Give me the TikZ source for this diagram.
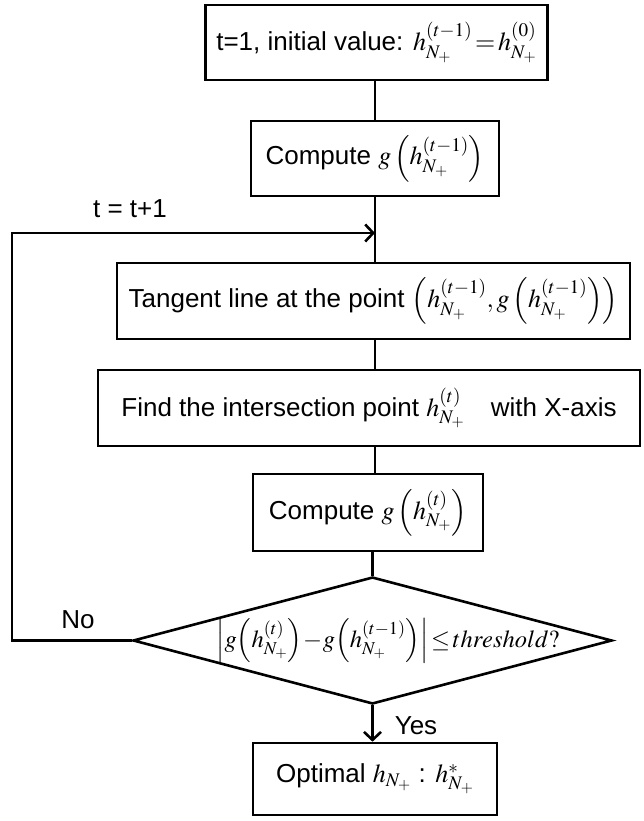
\documentclass[tikz,border=0pt]{standalone}
\usepackage{mathptmx}
\usepackage[no-math]{fontspec}
\setmainfont{Liberation Sans}
\usetikzlibrary{arrows.meta,shapes.geometric}
\begin{document}
\begin{tikzpicture}[x=1pt,y=-1pt,line width=2.6pt,
  box/.style={draw,line width=2.6pt,rectangle,inner sep=0pt,font=\fontsize{26}{30}\selectfont},
  lbl/.style={font=\fontsize{26}{30}\selectfont,inner sep=0pt},
  flow/.style={-{Straight Barb[length=8pt,width=17pt,line width=2.6pt]}}]
\useasboundingbox (0,0) rectangle (643,821);
% boxes
\node[box,minimum width=342pt,minimum height=75pt] (b1) at (376.5,42.5)
  {t=1, initial value: $h^{(t-1)}_{N_+}\!=\!h^{(0)}_{N_+}$};
\node[box,minimum width=248pt,minimum height=75pt] (b2) at (375,158.5)
  {Compute $g\left(h^{(t-1)}_{N_+}\right)$};
\node[box,minimum width=513pt,minimum height=76pt] (b3) at (373.5,301)
  {Tangent line at the point $\left(h^{(t-1)}_{N_+},g\left(h^{(t-1)}_{N_+}\right)\right)$};
\node[box,minimum width=542pt,minimum height=76pt] (b4) at (369,408)
  {Find the intersection point $h^{(t)}_{N_+}$\quad with X-axis};
\node[box,minimum width=230pt,minimum height=77pt] (b5) at (368,512.5)
  {Compute $g\left(h^{(t)}_{N_+}\right)$};
\node[draw,diamond,line width=2.6pt,minimum width=479pt,minimum height=127pt,inner sep=0pt] (dec) at (372.5,640.5) {};
\node[lbl,font=\fontsize{24.5}{28}\selectfont] (dect) at (388,641)
  {$\left|g\!\left(h^{(t)}_{N_+}\right)\!-\!g\!\left(h^{(t-1)}_{N_+}\right)\right|\!\le\! threshold?$};
\node[box,minimum width=244pt,minimum height=72pt] (b6) at (375,779)
  {Optimal $h_{N_+}$ : $h^{*}_{N_+}$};
% labels
\node[lbl] (tlab) at (130,209) {t = t+1};
\node[lbl] (nolab) at (78,620) {No};
\node[lbl] (yeslab) at (416,726) {Yes};
% coordinates
\coordinate (join) at (375,233);
\coordinate (cornerB) at (12,640.5);
\coordinate (cornerT) at (12,233);
% connectors
\draw (b2.north |- b1.south) -- (b2.north);
\draw (b2.south) -- (b3.north -| b2.south);
\draw (b3.south -| b2.south) -- (b4.north -| b2.south);
\draw (b4.south -| b2.south) -- (b5.north -| b2.south);
\draw (b5.south -| dec.north) -- (dec.north);
\draw[flow] (dec.south) -- (b6.north -| dec.south);
\draw[flow] (dec.west) -- (cornerB) -- (cornerT) -- (join);
\end{tikzpicture}
\end{document}
